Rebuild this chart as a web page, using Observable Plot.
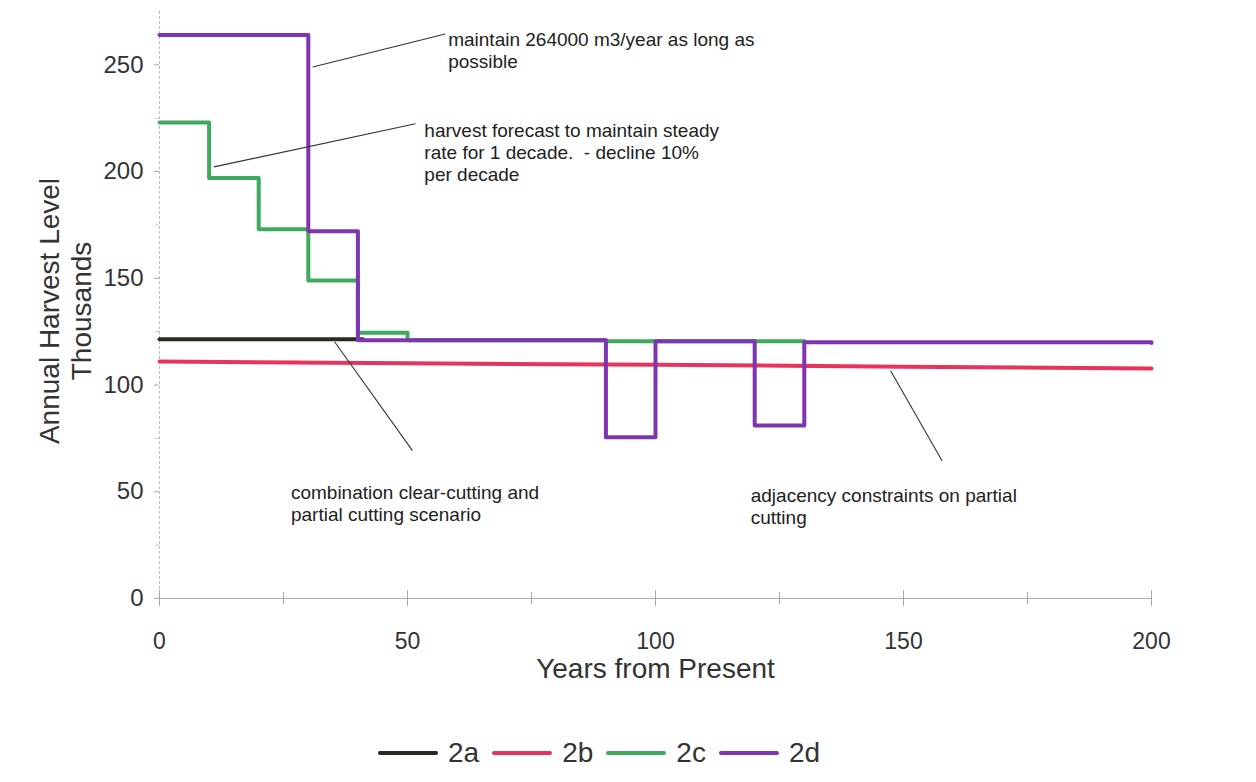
<!DOCTYPE html>
<html>
<head>
<meta charset="utf-8">
<script src="https://cdn.jsdelivr.net/npm/d3@7"></script>
<script src="https://cdn.jsdelivr.net/npm/@observablehq/plot@0.6"></script>
<style>
  body { margin: 0; background: #fff; font-family: "Liberation Sans", Arial, sans-serif; position: relative; width: 1256px; height: 782px; overflow: hidden; }
  #legend { position: absolute; left: 378px; top: 737px; height: 32px; display: flex; align-items: center; font-size: 28px; color: #333; }
  .item { display: flex; align-items: center; margin-right: 13px; }
  .swatch { width: 60px; height: 4px; margin-right: 10px; border-radius: 2px; }
</style>
</head>
<body>
<div id="chart"></div>
<div id="legend"></div>
<script>
// Series (years from present, thousands m3/year)
const series = ["2a", "2b", "2c", "2d"];
const colors = ["#2a2a22", "#e6345e", "#3faa5c", "#7e35b0"];

const years2a = [0, 10, 20, 30, 40];
const values2a = [121.5, 121.5, 121.5, 121.5, 121.5];

const years2b = [0, 50, 100, 150, 200];
const values2b = [111, 110.2, 109.5, 108.6, 107.8];

const years2c = [0, 10, 20, 30, 40, 50, 90, 100, 120, 130];
const values2c = [223, 197, 173, 149, 124.5, 121, 120.5, 120.5, 120.5, 120.5];

const years2d = [0, 30, 40, 90, 100, 120, 130, 200];
const values2d = [264, 172, 121, 75.5, 120.5, 81, 120, 119.7];

const yTicks = [0, 50, 100, 150, 200, 250];
const yMinor = [25, 75, 125, 175, 225];
const xTicks = [0, 50, 100, 150, 200];
const xMinor = [25, 75, 125, 175];

// annotations
const notes = [
  "maintain 264000 m3/year as long as\npossible",
  "harvest forecast to maintain steady\nrate for 1 decade.  - decline 10%\nper decade",
  "combination clear-cutting and\npartial cutting scenario",
  "adjacency constraints on partial\ncutting"
];
const noteX = [58.2, 53.4, 26.5, 119.2];
const noteY = [266.1, 223.5, 53.9, 52.5];
const leaderX1 = [30.9, 11.0, 35.3, 147.4];
const leaderY1 = [249, 202.2, 120.3, 106.7];
const leaderX2 = [57.6, 51.6, 51.0, 157.8];
const leaderY2 = [264.5, 222.4, 69.3, 64.4];

function rows(name, xs, ys) { return xs.map((x, i) => ({series: name, x, y: ys[i]})); }
const stepRows = [
  ...rows("2a", years2a, values2a), {series: "2a", x: 41, y: values2a[values2a.length - 1]},
  ...rows("2c", years2c, values2c),
  ...rows("2d", years2d, values2d)
];
const redRows = rows("2b", years2b, values2b);
const noteData = notes.map((t, i) => ({t, x: noteX[i], y: noteY[i]}));
const leaders = leaderX1.map((x1, i) => ({x1, y1: leaderY1[i], x2: leaderX2[i], y2: leaderY2[i]}));

const color = {domain: series, range: colors};
const order = s => series.indexOf(s);

const chart = Plot.plot({
  width: 1256,
  height: 700,
  marginLeft: 159,
  marginRight: 105,
  marginTop: 11,
  marginBottom: 102,
  style: {fontFamily: "'Liberation Sans', Arial, sans-serif", color: "#333", background: "#fff"},
  x: {domain: [0, 200]},
  y: {domain: [0, 275]},
  color,
  marks: [
    Plot.ruleY([0], {stroke: "#aaa", strokeWidth: 1}),
    Plot.ruleX([0], {stroke: "#bbb", strokeWidth: 1, strokeDasharray: "3,2"}),
    Plot.axisY({ticks: yTicks, tickSize: 5, tickPadding: 11, fontSize: 24, stroke: "#aaa", label: null, color: "#333"}),
    Plot.axisY({ticks: yMinor, tickSize: 4, tickFormat: () => "", stroke: "#ccc", label: null}),
    Plot.axisX({ticks: xTicks, tickSize: 16, tickPadding: 26, fontSize: 23, stroke: "#aaa", label: null, color: "#333", dy: -8}),
    Plot.axisX({ticks: xMinor, tickSize: 12, tickFormat: () => "", stroke: "#aaa", label: null, dy: -6}),
    Plot.line(stepRows.filter(d => d.series === "2a"), {x: "x", y: "y", stroke: "series", strokeWidth: 4, curve: "step-after"}),
    Plot.line(redRows, {x: "x", y: "y", stroke: "series", strokeWidth: 4}),
    Plot.line(stepRows.filter(d => d.series !== "2a"), {x: "x", y: "y", z: "series", stroke: "series", strokeWidth: 4, curve: "step-after"}),
    Plot.link(leaders, {x1: "x1", y1: "y1", x2: "x2", y2: "y2", stroke: "#333", strokeWidth: 1.1}),
    Plot.text(noteData, {x: "x", y: "y", text: "t", textAnchor: "start", lineAnchor: "top", fontSize: 19, lineHeight: 1.16, fill: "#222"}),
    Plot.text(["Annual Harvest Level\nThousands"], {frameAnchor: "left", textAnchor: "middle", rotate: -90, dx: -95, dy: 6, fontSize: 28, lineHeight: 1.15, fill: "#333"}),
    Plot.text(["Years from Present"], {frameAnchor: "bottom", dy: 79, fontSize: 28, fill: "#333"})
  ]
});
document.getElementById("chart").appendChild(chart);

const legend = document.getElementById("legend");
series.forEach((s, i) => {
  const item = document.createElement("div");
  item.className = "item";
  const sw = document.createElement("span");
  sw.className = "swatch";
  sw.style.background = colors[i];
  const lab = document.createElement("span");
  lab.textContent = s;
  item.appendChild(sw);
  item.appendChild(lab);
  legend.appendChild(item);
});
</script>
</body>
</html>
